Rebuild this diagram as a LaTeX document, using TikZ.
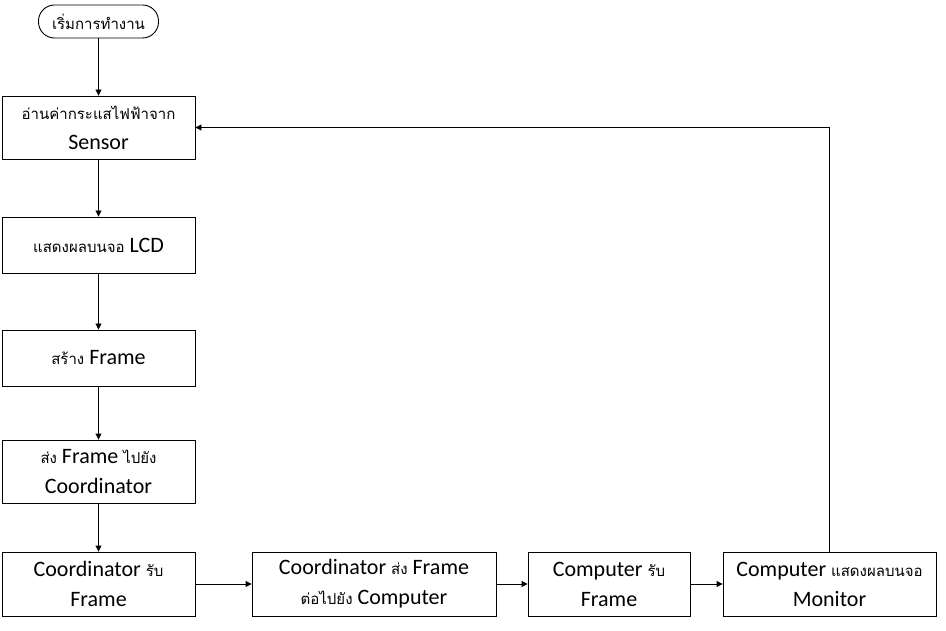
\documentclass[tikz,border=0pt]{standalone}
\usepackage{fontspec}
\setmainfont{Carlito}
\newfontfamily\thaifont[Script=Thai]{Loma}
\usetikzlibrary{arrows.meta, positioning}
\newcommand{\tht}[1]{{\thaifont\fontsize{15}{30}\selectfont #1}}

\begin{document}
\begin{tikzpicture}[
    x=1pt, y=-1pt,
    stepbox/.style={rectangle, draw=black, line width=0.9pt, minimum width=193pt,
        minimum height=56pt, align=center, inner sep=2pt,
        font=\fontsize{22}{30}\selectfont},
    startbox/.style={rectangle, rounded corners=16pt, draw=black, line width=0.9pt,
        minimum width=120pt, minimum height=33pt, inner sep=2pt},
    arr/.style={-{Triangle[length=6pt, width=6pt]}, line width=0.9pt},
]
\useasboundingbox (0,0) rectangle (946,631);
% left column
\node[startbox] (start) at (98.5,21.5) {\tht{เริ่มการทำงาน}};
\node[stepbox, minimum height=63pt] (sensor) at (98.5,127.5) {\tht{อ่านค่ากระแสไฟฟ้าจาก}\\Sensor};
\node[stepbox] (lcd) at (98.5,245) {\tht{แสดงผลบนจอ} LCD};
\node[stepbox] (mkframe) at (98.5,358) {\tht{สร้าง} Frame};
\node[stepbox, minimum height=63pt] (send) at (98.5,471.5) {\tht{ส่ง} Frame \tht{ไปยัง}\\Coordinator};
\node[stepbox, minimum height=64pt] (corecv) at (98.5,584) {Coordinator \tht{รับ}\\Frame};
% bottom row
\node[stepbox, minimum height=64pt, minimum width=244pt] (cosend) at (374,584) {Coordinator \tht{ส่ง} Frame\\\tht{ต่อไปยัง} Computer};
\node[stepbox, minimum height=64pt, minimum width=162pt] (pcrecv) at (609,584) {Computer \tht{รับ}\\Frame};
\node[stepbox, minimum height=64pt, minimum width=213pt] (monitor) at (829.5,584) {Computer \tht{แสดงผลบนจอ}\\Monitor};
\foreach \a/\b in {start/sensor, sensor/lcd, lcd/mkframe, mkframe/send, send/corecv} {
    \draw[arr] (\a) -- (\b);
}
\foreach \a/\b in {corecv/cosend, cosend/pcrecv, pcrecv/monitor} {
    \draw[arr] (\a) -- (\b);
}
% back to sensor
\draw[arr] (monitor.north) |- (sensor.east);
\end{tikzpicture}
\end{document}
